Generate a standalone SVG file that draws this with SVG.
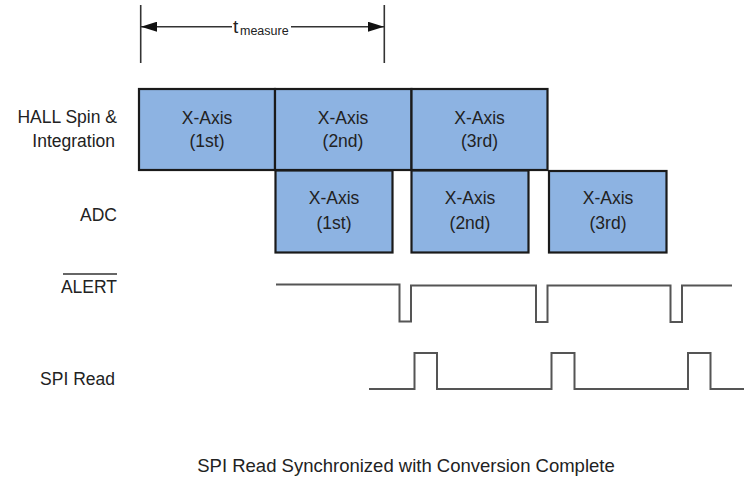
<svg xmlns="http://www.w3.org/2000/svg" width="744" height="479" viewBox="0 0 744 479">
<style>
text{font-family:"Liberation Sans",Arial,sans-serif;fill:#222}
.lbl{font-size:17.5px;text-anchor:end}
.bx rect{fill:#8db3e2;stroke:#1a1a1a;stroke-width:2.2}
.bx text{font-size:17.5px;text-anchor:middle}
.wave{fill:none;stroke:#555;stroke-width:2}
.dim{stroke:#333;stroke-width:1.6;fill:none}
</style>
<defs>
<marker id="ah" viewBox="0 0 16 10" refX="16" refY="5" markerWidth="16" markerHeight="10" markerUnits="userSpaceOnUse" orient="auto-start-reverse">
<path d="M0,0 L16,5 L0,10 Z" fill="#111"/>
</marker>
</defs>
<rect width="744" height="479" fill="#fff"/>

<g id="labels">
<text class="lbl" x="117" y="122.5">HALL Spin &amp;</text>
<text class="lbl" x="115" y="146.5">Integration</text>
<text class="lbl" x="117" y="220.5">ADC</text>
<text class="lbl" x="117" y="293">ALERT</text>
<line x1="63" y1="274" x2="117" y2="274" stroke="#333" stroke-width="1.5"/>
<text class="lbl" x="115" y="385">SPI Read</text>
</g>

<g id="hall1" class="bx"><rect x="139" y="89" width="136" height="81"/><text x="207" y="124">X-Axis</text><text x="207" y="147">(1st)</text></g>
<g id="hall2" class="bx"><rect x="275" y="89" width="136.5" height="81"/><text x="343" y="124">X-Axis</text><text x="343" y="147">(2nd)</text></g>
<g id="hall3" class="bx"><rect x="411.5" y="89" width="136" height="81"/><text x="479.5" y="124">X-Axis</text><text x="479.5" y="147">(3rd)</text></g>
<g id="adc1" class="bx"><rect x="275.5" y="170.5" width="117" height="82"/><text x="334" y="204">X-Axis</text><text x="334" y="229">(1st)</text></g>
<g id="adc2" class="bx"><rect x="411.5" y="170.5" width="117" height="82"/><text x="470" y="204">X-Axis</text><text x="470" y="229">(2nd)</text></g>
<g id="adc3" class="bx"><rect x="549" y="171" width="117.5" height="81.5"/><text x="608" y="204">X-Axis</text><text x="608" y="229">(3rd)</text></g>

<g id="connectors">
<line class="dim" x1="140.7" y1="5" x2="140.7" y2="63"/>
<line class="dim" x1="384.3" y1="5" x2="384.3" y2="63"/>
<line class="dim" x1="232" y1="26.7" x2="141" y2="26.7" marker-end="url(#ah)"/>
<line class="dim" x1="291" y1="26.7" x2="384" y2="26.7" marker-end="url(#ah)"/>
<polyline class="wave" points="276,284.5 399.5,284.5 399.5,321.5 411,321.5 411,285.5 536,285.5 536,322 547.5,322 547.5,285.5 670.5,285.5 670.5,322 682,322 682,285.5 732,285.5"/>
<polyline class="wave" points="369,389 414.5,389 414.5,353 437,353 437,389 551.5,389 551.5,353 574.5,353 574.5,389 688,389 688,353 710.5,353 710.5,389 744,389"/>
</g>

<g id="tmeasure">
<text x="233" y="33" font-size="19">t</text>
<text x="240" y="35" font-size="12.5">measure</text>
</g>

<text x="406" y="472" font-size="18.5" text-anchor="middle">SPI Read Synchronized with Conversion Complete</text>
</svg>
